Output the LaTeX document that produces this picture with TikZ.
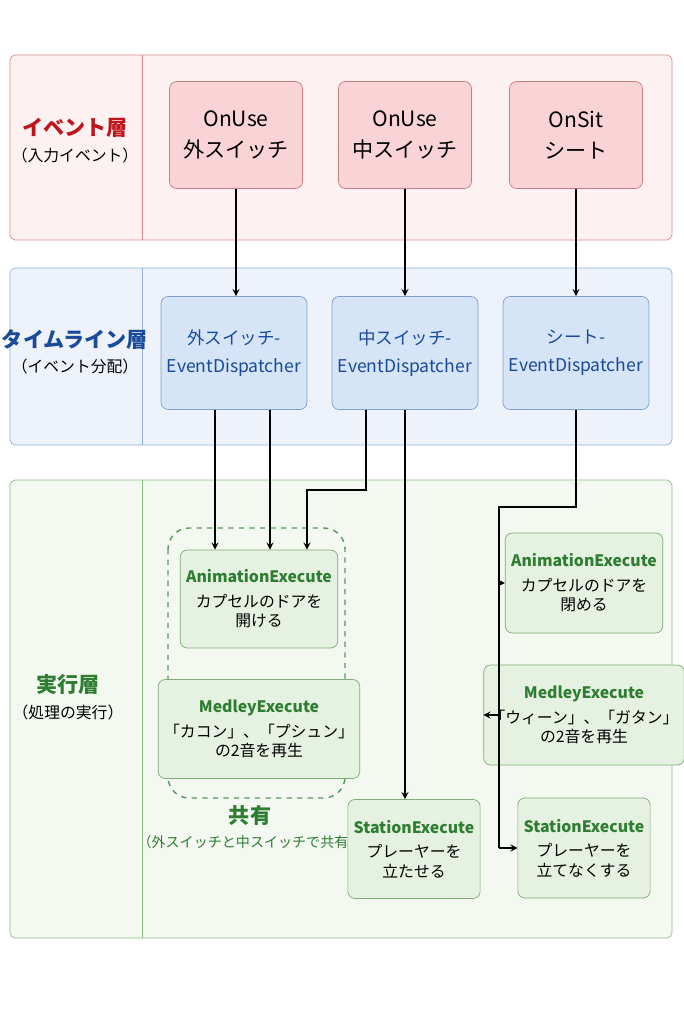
\documentclass[tikz,border=0pt]{standalone}
\usepackage{fontspec}
\setmainfont{Noto Sans CJK JP}
\usetikzlibrary{calc}
\tikzset{>=stealth}
\definecolor{redline}{HTML}{DD8A92}
\definecolor{redfill}{HTML}{FDF1F1}
\definecolor{rednode}{HTML}{F9D3D5}
\definecolor{redtext}{HTML}{C0141C}
\definecolor{blueline}{HTML}{8FB0DE}
\definecolor{bluefill}{HTML}{EEF3FB}
\definecolor{bluenode}{HTML}{D6E4F7}
\definecolor{bluetext}{HTML}{1A4A9A}
\definecolor{greenline}{HTML}{8CC083}
\definecolor{greenfill}{HTML}{F3F8F0}
\definecolor{greennode}{HTML}{E6F2E1}
\definecolor{greentext}{HTML}{2E7D32}
\tikzset{
  rbox/.style={draw=redline!90!black,fill=rednode,rounded corners=4pt,align=center,font=\large,minimum width=2.66cm,minimum height=2.14cm},
  bbox/.style={draw=blueline!90!black,fill=bluenode,rounded corners=4pt,align=center,font=\normalsize,text=bluetext,minimum width=2.68cm,minimum height=2.26cm},
  gbox/.style={draw=greenline!90!black,fill=greennode,rounded corners=4pt,align=center,font=\small,minimum height=1.98cm},
  arr/.style={->,thick,black},
  ttl/.style={font=\bfseries\large}
}
\newcommand{\gtitle}[1]{{\color{greentext}\bfseries #1}}
\begin{document}
\begin{tikzpicture}[x=0.02cm,y=-0.02cm]
\useasboundingbox[fill=white] (0,0) rectangle (683,1024);
% panels
\draw[redline,fill=redfill,rounded corners=3pt] (10,55) rectangle (672,240);
\draw[redline] (142,55) -- (142,240);
\draw[blueline,fill=bluefill,rounded corners=3pt] (10,268) rectangle (672,445);
\draw[blueline] (142,268) -- (142,445);
\draw[greenline,fill=greenfill,rounded corners=3pt] (10,480) rectangle (672,938);
\draw[greenline] (142,480) -- (142,938);
\node[ttl,text=redtext] (lr) at (75,128) {イベント層};
\node[font=\small] (lr2) at (75,155) {（入力イベント）};
\node[ttl,text=bluetext] (lb) at (75,340) {タイムライン層};
\node[font=\small] (lb2) at (75,366) {（イベント分配）};
\node[ttl,text=greentext] (lg) at (68,685) {実行層};
\node[font=\small] (lg2) at (68,712) {（処理の実行）};
% event nodes
\node[rbox] (r1) at (236,135) {OnUse\\[4pt]外スイッチ};
\node[rbox] (r2) at (405,135) {OnUse\\[4pt]中スイッチ};
\node[rbox] (r3) at (576,135) {OnSit\\[4pt]シート};
% dispatchers
\node[bbox] (b1) at (234,353) {外スイッチ-\\[4pt]EventDispatcher};
\node[bbox] (b2) at (405,353) {中スイッチ-\\[4pt]EventDispatcher};
\node[bbox] (b3) at (576,353) {シート-\\[4pt]EventDispatcher};
% shared group
\draw[greentext!80,dashed,thick,rounded corners=12pt] (168,528) rectangle (345,798);
\node[gbox,minimum width=2.84cm,minimum height=1.96cm] (a1) at (259,599) {\gtitle{AnimationExecute}\\[3pt]カプセルのドアを\\開ける};
\node[gbox,minimum width=2.84cm] (m1) at (259,729) {\gtitle{MedleyExecute}\\[3pt]「カコン」、「プシュン」\\の2音を再生};
\node[font=\bfseries\large,text=greentext] (sh) at (250,815) {共有};
\node[font=\footnotesize,text=greentext] (sh2) at (250,842) {（外スイッチと中スイッチで共有）};
\node[gbox,minimum width=2.38cm] (s2) at (414,849) {\gtitle{StationExecute}\\[3pt]プレーヤーを\\立たせる};
\node[gbox,minimum width=2.6cm,minimum height=2cm] (e1) at (584,583) {\gtitle{AnimationExecute}\\[3pt]カプセルのドアを\\閉める};
\node[gbox,minimum width=2.6cm,minimum height=2cm] (e2) at (584,715) {\gtitle{MedleyExecute}\\[3pt]「ウィーン」、「ガタン」\\の2音を再生};
\node[gbox,minimum width=2.6cm,minimum height=2cm] (e3) at (584,848) {\gtitle{StationExecute}\\[3pt]プレーヤーを\\立てなくする};
% connectors
\draw[arr] (r1.south) -- (r1.south |- b1.north);
\draw[arr] (r2.south) -- (r2.south |- b2.north);
\draw[arr] (r3.south) -- (r3.south |- b3.north);
\draw[arr] ($(b1.south)+(-19,0)$) -- ($(a1.north)+(-44,0)$);
\draw[arr] ($(b1.south)+(36,0)$) -- ($(a1.north)+(11,0)$);
\draw[arr] ($(b2.south)+(-39,0)$) -- ++(0,80) -| ($(a1.north)+(48,0)$);
\draw[arr] (b2.south) -- (b2.south |- s2.north);
\coordinate (sp) at (499,507);
\draw[thick] (b3.south) |- (sp) -- (sp |- e3.west);
\draw[arr] (sp |- e1.west) -- (e1.west);
\draw[arr] (sp |- e2.west) -- (e2.west);
\draw[arr] (sp |- e3.west) -- (e3.west);
\end{tikzpicture}
\end{document}
